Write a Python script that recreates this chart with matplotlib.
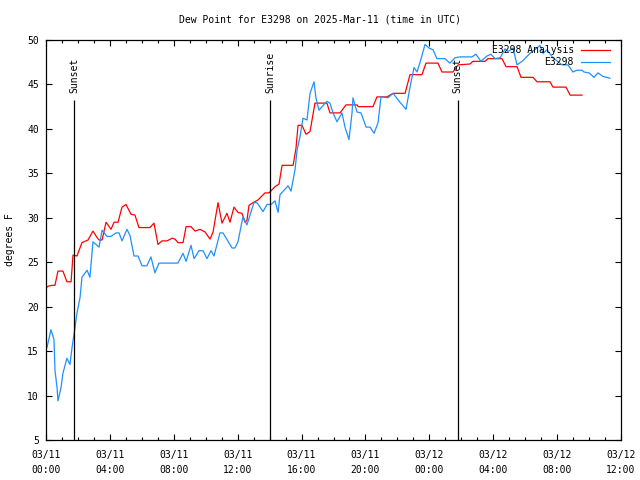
import matplotlib
matplotlib.use('Agg')
import matplotlib.pyplot as plt
import matplotlib.dates as mdates
import pandas as pd

start = pd.Timestamp('2025-03-11 00:00')

# hours since 03/11 00:00 UTC, dew point (F)
analysis_hours = [0.00, 0.13, 0.38, 0.56, 0.75, 1.06, 1.31, 1.57, 1.69, 1.94, 2.25, 2.50, 2.63, 2.94,
                  3.19, 3.32, 3.51, 3.76, 4.07, 4.26, 4.51, 4.76, 5.01, 5.32, 5.57, 5.82, 6.51, 6.76,
                  7.01, 7.26, 7.58, 7.89, 8.08, 8.26, 8.58, 8.77, 9.08, 9.33, 9.64, 9.96, 10.27, 10.46,
                  10.77, 11.02, 11.33, 11.52, 11.77, 12.02, 12.27, 12.46, 12.58, 12.71, 12.96, 13.27,
                  13.71, 13.96, 14.34, 14.59, 14.78, 15.47, 15.65, 15.78, 16.03, 16.28, 16.53, 16.84,
                  17.59, 17.78, 18.41, 18.78, 19.47, 19.55, 20.47, 20.72, 21.35, 21.73, 22.48, 22.79,
                  23.54, 23.79, 24.54, 24.79, 25.48, 25.80, 26.55, 26.73, 27.49, 27.67, 28.55, 28.80,
                  29.49, 29.74, 30.49, 30.74, 31.56, 31.74, 32.56, 32.81, 33.56]
analysis_dewpt = [22.1, 22.3, 22.4, 22.4, 24.0, 24.0, 22.8, 22.8, 25.8, 25.7, 27.2, 27.4, 27.5, 28.5,
                  27.8, 27.5, 27.5, 29.5, 28.7, 29.5, 29.5, 31.2, 31.5, 30.4, 30.3, 28.9, 28.9, 29.4,
                  27.0, 27.4, 27.4, 27.7, 27.6, 27.2, 27.2, 29.0, 29.0, 28.5, 28.7, 28.4, 27.6, 28.4,
                  31.7, 29.4, 30.5, 29.5, 31.2, 30.6, 30.5, 29.5, 29.7, 31.4, 31.7, 32.0,
                  32.8, 32.8, 33.5, 33.8, 35.9, 35.9, 37.8, 40.4, 40.4, 39.4, 39.7, 42.9,
                  42.9, 41.8, 41.8, 42.7, 42.7, 42.5, 42.5, 43.6, 43.6, 44.0, 44.0, 46.1,
                  46.1, 47.4, 47.4, 46.4, 46.4, 47.2, 47.3, 47.6, 47.6, 47.9, 47.9, 47.0,
                  47.0, 45.8, 45.8, 45.3, 45.3, 44.7, 44.7, 43.8, 43.8]

obs_hours = [0.06, 0.31, 0.50, 0.56, 0.69, 0.75, 0.94, 1.06, 1.31, 1.50, 1.63, 1.82, 1.94, 2.13,
             2.25, 2.57, 2.75, 2.94, 3.19, 3.32, 3.51, 3.82, 4.07, 4.38, 4.57, 4.76, 5.07, 5.26,
             5.51, 5.76, 6.01, 6.32, 6.57, 6.82, 7.07, 7.39, 8.26, 8.58, 8.77, 9.08, 9.27, 9.58,
             9.83, 10.08, 10.33, 10.52, 10.89, 11.08, 11.65, 11.83, 12.02, 12.33, 12.58, 13.02,
             13.21, 13.59, 13.84, 14.09, 14.34, 14.53, 14.65, 14.96, 15.15, 15.34, 15.59, 15.72,
             15.90, 16.09, 16.34, 16.53, 16.78, 16.90, 17.09, 17.28, 17.59, 17.78, 17.97, 18.22,
             18.53, 18.72, 18.97, 19.16, 19.22, 19.47, 19.72, 20.04, 20.29, 20.54, 20.79, 20.97,
             21.41, 21.73, 22.16, 22.54, 22.79, 23.04, 23.23, 23.42, 23.73, 23.98, 24.23, 24.48,
             24.98, 25.29, 25.61, 25.92, 26.67, 26.92, 27.23, 27.61, 27.86, 28.11, 28.43, 28.74,
             28.93, 29.24, 29.49, 29.87, 30.30, 30.74, 30.93, 31.12, 31.37, 31.74, 32.31, 32.68,
             32.99, 33.24, 33.56, 33.68, 34.00, 34.31, 34.56, 34.87, 35.31]
obs_dewpt = [15.4, 17.4, 16.3, 12.9, 10.9, 9.4, 10.9, 12.5, 14.2, 13.5, 15.4, 17.7, 19.3, 21.0,
             23.3, 24.1, 23.3, 27.3, 26.9, 26.7, 28.6, 27.9, 27.9, 28.3, 28.3, 27.4, 28.7, 28.0,
             25.7, 25.7, 24.6, 24.6, 25.6, 23.8, 24.9, 24.9, 24.9, 26.0, 25.1, 26.9, 25.4, 26.3,
             26.3, 25.4, 26.3, 25.7, 28.3, 28.3, 26.6, 26.6, 27.3, 30.1, 29.2, 31.7,
             31.7, 30.7, 31.5, 31.5, 31.9, 30.6, 32.6, 33.2, 33.6, 33.0, 35.4, 37.6,
             39.1, 41.2, 41.0, 44.0, 45.3, 43.5, 42.1, 42.5, 43.1, 42.9, 41.8, 40.8,
             41.8, 40.2, 38.8, 41.8, 43.5, 41.9, 41.8, 40.2, 40.2, 39.5, 40.7, 43.6,
             43.5, 44.0, 43.0, 42.2, 44.7, 46.9, 46.4, 47.5, 49.5, 49.1, 48.9, 47.9,
             47.9, 47.4, 48.0, 48.1, 48.1, 48.4, 47.6, 48.2, 48.4, 47.9, 48.0, 49.0,
             48.7, 49.1, 47.2, 47.7, 48.5, 49.1, 49.4, 48.5, 48.9, 48.0, 47.2, 47.2,
             46.4, 46.6, 46.6, 46.4, 46.3, 45.8, 46.3, 45.9, 45.7]

sun_labels = ['Sunset', 'Sunrise', 'Sunset']
sun_times = ['2025-03-11 01:46', '2025-03-11 14:01', '2025-03-12 01:46']

mono = 'DejaVu Sans Mono'
fs = 7

analysis_t = (start + pd.to_timedelta(analysis_hours, unit='h')).to_pydatetime()
obs_t = (start + pd.to_timedelta(obs_hours, unit='h')).to_pydatetime()

fig = plt.figure(figsize=(6.4, 4.8), dpi=100)
ax = fig.add_axes([46 / 640, 40 / 480, 575 / 640, 400 / 480])

ax.plot(analysis_t, analysis_dewpt, color='#ff0000', lw=0.9)
ax.plot(obs_t, obs_dewpt, color='#1e90ff', lw=0.9)

for lab, t in zip(sun_labels, sun_times):
    t = pd.Timestamp(t).to_pydatetime()
    ax.vlines(t, 5, 43.3, color='black', lw=0.9)
    ax.text(t, 44.0, lab, rotation=90, ha='center', va='bottom', family=mono, fontsize=fs)

# gnuplot-style key, right aligned text then sample line
key = [('E3298 Analysis', '#ff0000', 0.976), ('E3298', '#1e90ff', 0.944)]
for lab, col, yy in key:
    ax.text(0.918, yy, lab, transform=ax.transAxes, ha='right', va='center', family=mono, fontsize=fs)
    ax.plot([0.931, 0.98], [yy, yy], transform=ax.transAxes, color=col, lw=0.9)

ax.set_xlim(pd.Timestamp('2025-03-11 00:00').to_pydatetime(), pd.Timestamp('2025-03-12 12:00').to_pydatetime())
ax.set_ylim(5, 50)
ax.set_yticks(range(5, 51, 5))
ax.xaxis.set_major_locator(mdates.HourLocator(byhour=range(0, 24, 4)))
ax.xaxis.set_minor_locator(mdates.HourLocator())
ax.xaxis.set_major_formatter(mdates.DateFormatter('%m/%d\n%H:%M'))

ax.tick_params(which='both', direction='in', top=True, right=True, labelsize=fs, width=0.8)
ax.tick_params(which='major', length=4.5)
ax.tick_params(which='minor', length=2.2)
ax.tick_params(axis='x', pad=7)
ax.tick_params(axis='y', pad=5)
for lbl in ax.get_xticklabels():
    lbl.set_family(mono)
    lbl.set_linespacing(1.7)
for lbl in ax.get_yticklabels():
    lbl.set_family(mono)
for s in ax.spines.values():
    s.set_linewidth(0.9)

ax.set_ylabel('degrees F', family=mono, fontsize=fs, labelpad=9)
fig.text(0.5, 1 - 19 / 480, 'Dew Point for E3298 on 2025-Mar-11 (time in UTC)',
         ha='center', va='center', family=mono, fontsize=fs)

fig.savefig('out.png', dpi=100)
